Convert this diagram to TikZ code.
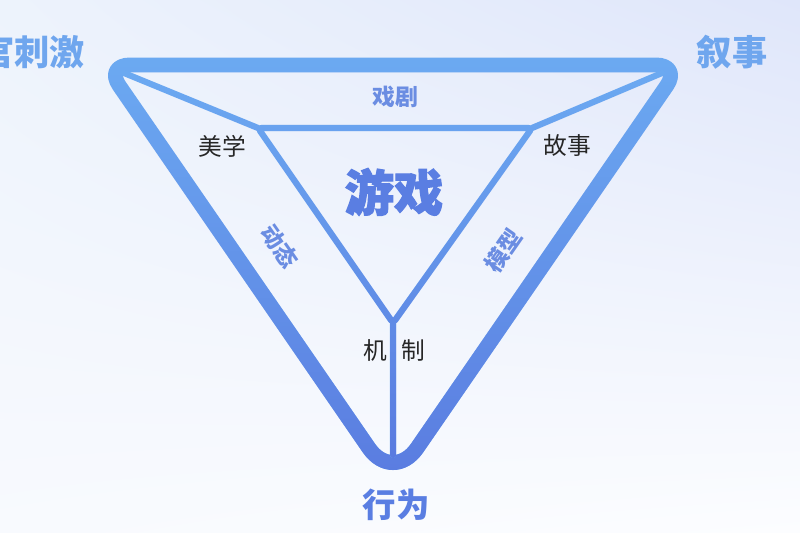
\documentclass[tikz,border=0pt]{standalone}
\usepackage{fontspec}
\usepackage{tikz}
\usetikzlibrary{fadings,shadings}
\newfontfamily\cjk{Noto Sans CJK SC}
\newfontfamily\cjkheavy{Noto Sans CJK SC}[FakeBold=2.5]
\definecolor{bandtop}{HTML}{6CAAF2}
\definecolor{bandbot}{HTML}{5A7BE0}
\definecolor{lightlab}{HTML}{6FA6EE}
\definecolor{midlab}{HTML}{6B8DE2}
\definecolor{darklab}{HTML}{5A7EE2}
\definecolor{bgtl}{HTML}{EDF3FC}
\definecolor{bgtr}{HTML}{DFE6FA}
\definecolor{bgbl}{HTML}{F8FAFE}
\definecolor{bgbr}{HTML}{FCFDFF}

\begin{document}
\begin{tikzpicture}[x=0.02cm,y=-0.02cm,
  band/.style={line width=8.5pt,line join=round,rounded corners=0.5cm},
  spoke/.style={line width=3.5pt,line join=round,line cap=round,rounded corners=2pt},
  corner/.style={font=\cjk\bfseries\fontsize{20}{20}\selectfont,text=lightlab},
  edgelab/.style={font=\cjk\bfseries\fontsize{13}{13}\selectfont,text=midlab},
  pole/.style={font=\cjk\fontsize{13.5}{13.5}\selectfont,text=black!85}]
\shade[upper left=bgtl,upper right=bgtr,lower left=bgbl,lower right=bgbr] (0,0) rectangle (800,533);
\useasboundingbox (0,0) rectangle (800,533);

% outer triangle
\coordinate (senses) at (105,65);
\coordinate (story) at (681,65);
\coordinate (act) at (393,483);
\draw[band,bandtop] (393,65) -- (story) [rounded corners=0.85cm] -- (act) [rounded corners=0.5cm] -- (senses) -- cycle;
\draw[band,bandbot,path fading=north] (393,65) -- (story) [rounded corners=0.85cm] -- (act) [rounded corners=0.5cm] -- (senses) -- cycle;

% inner triangle and spokes
\coordinate (aes) at (258,128);
\coordinate (sto) at (532,128);
\coordinate (mech) at (393,323);
\coordinate (sensesIn) at (124,73);
\coordinate (storyIn) at (662,73);
\coordinate (actIn) at (393,455);
\draw[spoke,bandtop] (aes) -- (sto) -- (mech) -- cycle
  (sensesIn) -- (aes) (storyIn) -- (sto) (mech) -- (actIn);
\draw[spoke,bandbot,path fading=north] (aes) -- (sto) -- (mech) -- cycle
  (sensesIn) -- (aes) (storyIn) -- (sto) (mech) -- (actIn);

% labels
\node[corner,anchor=east] (sensesLab) at (91,52) {官刺激};
\node[corner] (storyLab) at (732,52) {叙事};
\node[corner,text=darklab,font=\cjk\bfseries\fontsize{19}{19}\selectfont] (actLab) at (396,505) {行为};
\node[edgelab] (drama) at (395,97) {戏剧};
\node[edgelab,rotate=-55] (dyn) at (280,246) {动态};
\node[edgelab,rotate=55] (model) at (503,251) {模型};
\node[pole] (aesLab) at (222,146) {美学};
\node[pole] (stoLab) at (567,146) {故事};
\node[pole] (mechLab) at (394,350) {机\hspace{8pt}制};
\node[font=\cjkheavy\bfseries\fontsize{28}{28}\selectfont,text=darklab] (game) at (394,192) {游戏};
\end{tikzpicture}
\end{document}
